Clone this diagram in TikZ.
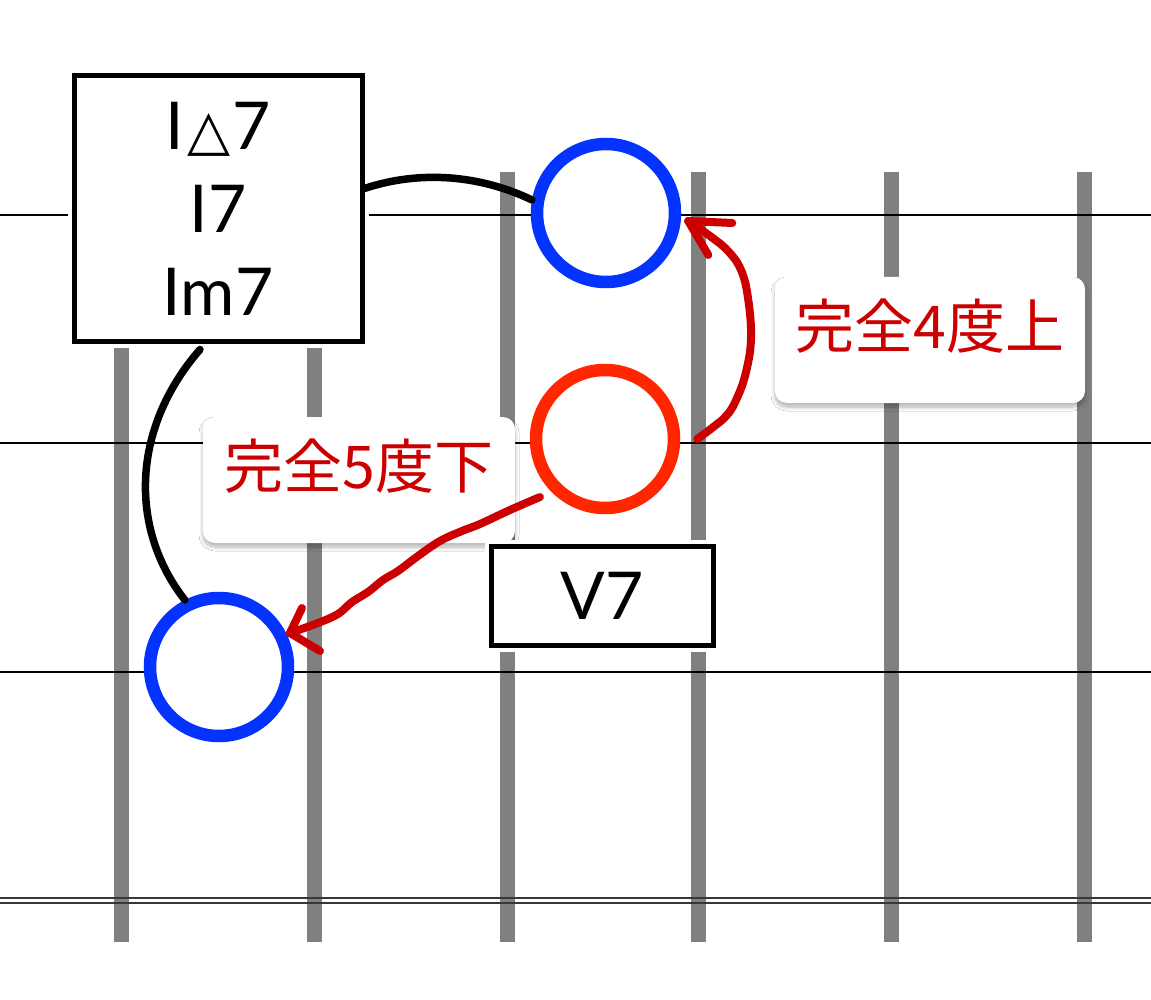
\documentclass[tikz,border=0pt]{standalone}
\usepackage{fontspec}
\setmainfont{Lato}
\newfontfamily\jp{Noto Sans CJK JP}
\newfontfamily\sym{DejaVu Sans}
\usetikzlibrary{calc,shadows.blur}
\definecolor{barg}{RGB}{128,128,128}
\definecolor{dline}{RGB}{55,55,55}
\definecolor{cblue}{RGB}{4,51,255}
\definecolor{cred}{RGB}{255,38,0}
\definecolor{tred}{RGB}{204,0,0}
\begin{document}
\begin{tikzpicture}[x=1pt,y=-1pt,
  bar/.style={line width=15pt, draw=barg},
  staff/.style={line width=2pt, draw=black},
  chordbox/.style={draw, line width=5pt, fill=white, preaction={draw=white,line width=13pt}, inner sep=0pt, font=\fontsize{66}{83}\selectfont, align=center},
  tagbox/.style={fill=white, rounded corners=12pt, blur shadow={shadow blur steps=10, shadow xshift=0pt, shadow yshift=-4pt, shadow opacity=30, shadow blur radius=4pt}, minimum width=310pt, minimum height=126pt, inner sep=0pt, text=tred, font=\jp\fontsize{59}{59}\selectfont, text height=50pt, text depth=34pt},
  ring/.style={circle, draw, line width=12.5pt, fill=white, minimum size=138pt, inner sep=0pt},
  link/.style={line width=7.5pt, line cap=round, draw=black},
  hand/.style={line width=8pt, line cap=round, line join=round, draw=tred},
]
\useasboundingbox[fill=white] (0,0) rectangle (1151,1000);
% vertical bars
\foreach \x in {121,314,507,698,891,1084} \draw[bar] (\x,172) -- (\x,942);
% staff lines
\draw[staff] (0,215) -- (1151,215);
\draw[staff] (0,443) -- (1151,443);
\draw[staff] (0,672) -- (1151,672);
\draw[line width=2pt, draw=dline] (0,897.5) -- (1151,897.5);
\draw[line width=2pt, draw=dline] (0,902.5) -- (1151,902.5);
% labels
\node[tagbox] (up4) at (930,340) {完全4度上};
\node[tagbox, minimum width=312pt] (dn5) at (359,480) {完全5度下};
% chord boxes
\node[chordbox, minimum width=288pt, minimum height=265pt] (tonic) at (218,208.5) {I\hspace{3pt}{\sym\fontsize{56}{56}\selectfont △}\hspace{2pt}7\\I7\\Im7};
\node[chordbox, minimum width=222pt, minimum height=99pt] (dom) at (602,595.5) {V7};
% circles
\node[ring, draw=cblue] (c1) at (606,213) {};
\node[ring, draw=cred] (c2) at (605,439) {};
\node[ring, draw=cblue] (c3) at (219,667) {};
% black links
\draw[link] ([yshift=20pt]tonic.east) .. controls (420,170) and (480,175) .. (c1.170);
\draw[link] ([xshift=-18pt,yshift=-6pt]tonic.south) .. controls (130,430) and (130,530) .. (c3.117);
% red arrow up a fourth
\coordinate (a1s) at ($(c2.east)+(17,0)$);
\coordinate (a1t) at ($(c1.east)+(7,8)$);
\draw[hand] plot[smooth, tension=0.7] coordinates {(a1s) (712,428) (727,415) (737,398) (746,372) (751,338) (748,298) (741,270) (728,251) (710,236) (a1t)};
\draw[hand] ($(a1t)+(44,2)$) -- (a1t) -- ($(a1t)+(20,34)$);
% red arrow down a fifth
\coordinate (a2s) at ($(c2.center)+(-65,58)$);
\coordinate (a2t) at ($(c3.center)+(71,-34)$);
\draw[hand] plot[smooth, tension=0.6] coordinates {(a2s) (510,510) (480,524) (462,531) (440,541) (418,556) (398,571) (383,580) (368,592) (352,602) (338,614) (318,623) (a2t)};
\draw[hand] ($(a2t)+(12,-25)$) -- (a2t) -- ($(a2t)+(30,18)$);
\end{tikzpicture}
\end{document}
